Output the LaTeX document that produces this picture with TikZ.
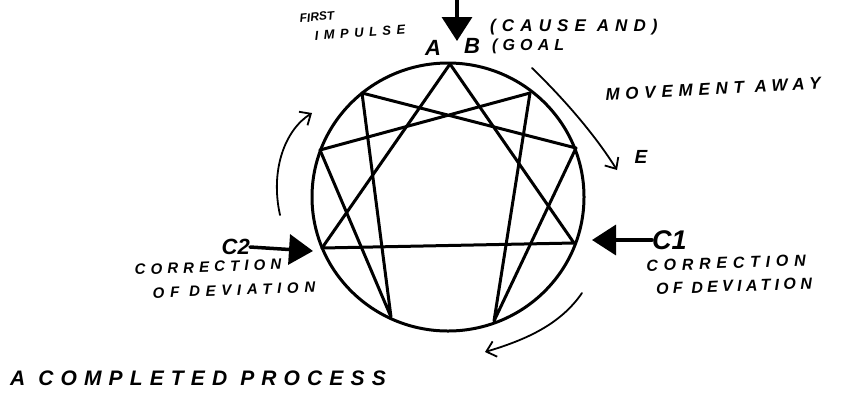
\documentclass[tikz,border=0pt]{standalone}
\usepackage{fontspec}
\newfontfamily\hand{Liberation Sans}[LetterSpace=40]
\usetikzlibrary{arrows.meta}

\begin{document}
\begin{tikzpicture}[x=1pt,y=-1pt,line cap=round,line join=round,
    lbl/.style={inner sep=0pt},
    fatarrow/.style={line width=3.5pt,-{Triangle[width=30pt,length=24pt]}},
    thinarrow/.style={line width=1.8pt,-{Straight Barb[width=16pt,length=9pt]}}]
  \useasboundingbox (0,0) rectangle (861,392);

  % circle and its nine points
  \draw[line width=3pt] (448,197) ellipse [x radius=136pt, y radius=134pt];
  \coordinate (p9) at (450,64);
  \coordinate (p1) at (530,93);
  \coordinate (p2) at (576,148);
  \coordinate (p3) at (574,243);
  \coordinate (p4) at (494,321);
  \coordinate (p5) at (391,317);
  \coordinate (p6) at (322,248);
  \coordinate (p7) at (320,150);
  \coordinate (p8) at (362,93);
  \draw[line width=3pt] (p9) -- (p3) -- (p6) -- cycle; % triangle
  \draw[line width=3pt] (p1) -- (p4) -- (p2) -- (p8) -- (p5) -- (p7) -- cycle; % inner figure

  % first impulse at the top
  \coordinate (impulse) at (457,0);
  \coordinate (impulsetip) at (457,41);
  \draw[fatarrow] (impulse) -- (impulsetip);
  \node[lbl,font=\hand\bfseries\itshape\fontsize{12}{12}\selectfont\addfontfeature{LetterSpace=0},rotate=6] (first) at (317,17) {FIRST};
  \node[lbl,font=\hand\bfseries\itshape\fontsize{13}{13}\selectfont\addfontfeature{LetterSpace=42},rotate=4] (impulsetxt) at (360,33) {IMPULSE};
  \node[lbl,font=\hand\bfseries\itshape\fontsize{22}{22}\selectfont\addfontfeature{LetterSpace=0}] (A) at (433,48) {A};
  \node[lbl,font=\hand\bfseries\itshape\fontsize{22}{22}\selectfont\addfontfeature{LetterSpace=0}] (B) at (472,46) {B};
  \node[lbl,font=\hand\bfseries\itshape\fontsize{17}{17}\selectfont\addfontfeature{LetterSpace=36},anchor=west] (cause) at (490,27) {(CAUSE AND)};
  \node[lbl,font=\hand\bfseries\itshape\fontsize{16}{16}\selectfont\addfontfeature{LetterSpace=32},anchor=west] (goal) at (492,46) {(GOAL};

  % movement away
  \coordinate (awaystart) at (532,68);
  \coordinate (awayend) at (617,170);
  \draw[thinarrow] (awaystart) .. controls (565,100) and (595,135) .. (awayend);
  \node[lbl,font=\hand\bfseries\itshape\fontsize{17}{17}\selectfont\addfontfeature{LetterSpace=34},rotate=3] (away) at (713,89) {MOVEMENT AWAY};
  \node[lbl,font=\hand\bfseries\itshape\fontsize{19}{19}\selectfont\addfontfeature{LetterSpace=0}] (E) at (641,157) {E};

  % first correction, right
  \node[lbl,font=\hand\bfseries\itshape\fontsize{27}{27}\selectfont\addfontfeature{LetterSpace=0},anchor=west] (C1) at (652,240) {C1};
  \coordinate (c1tip) at (592,240);
  \draw[fatarrow] (C1.west) -- (c1tip);
  \node[lbl,font=\hand\bfseries\itshape\fontsize{16}{16}\selectfont\addfontfeature{LetterSpace=36},rotate=2] (corr1) at (726,263) {CORRECTION};
  \node[lbl,font=\hand\bfseries\itshape\fontsize{16}{16}\selectfont\addfontfeature{LetterSpace=27},rotate=2] (dev1) at (734,286) {OF DEVIATION};

  % second correction, left
  \node[lbl,font=\hand\bfseries\itshape\fontsize{22}{22}\selectfont\addfontfeature{LetterSpace=0},anchor=east] (C2) at (250,247) {C2};
  \coordinate (c2tip) at (313,251);
  \draw[fatarrow] (C2.east) -- (c2tip);
  \node[lbl,font=\hand\bfseries\itshape\fontsize{15}{15}\selectfont\addfontfeature{LetterSpace=34},rotate=2] (corr2) at (208,267) {CORRECTION};
  \node[lbl,font=\hand\bfseries\itshape\fontsize{15}{15}\selectfont\addfontfeature{LetterSpace=38},rotate=2] (dev2) at (234,290) {OF DEVIATION};

  % turning round the circle
  \coordinate (leftstart) at (280,215);
  \coordinate (leftend) at (312,113);
  \draw[thinarrow] (leftstart) .. controls (270,170) and (285,130) .. (leftend);
  \coordinate (lowstart) at (582,293);
  \coordinate (lowend) at (485,352);
  \draw[thinarrow] (lowstart) .. controls (560,325) and (525,340) .. (lowend);

  \node[lbl,font=\hand\bfseries\itshape\fontsize{21}{21}\selectfont\addfontfeature{LetterSpace=34},anchor=west] (done) at (10,378) {A COMPLETED PROCESS};
\end{tikzpicture}
\end{document}
